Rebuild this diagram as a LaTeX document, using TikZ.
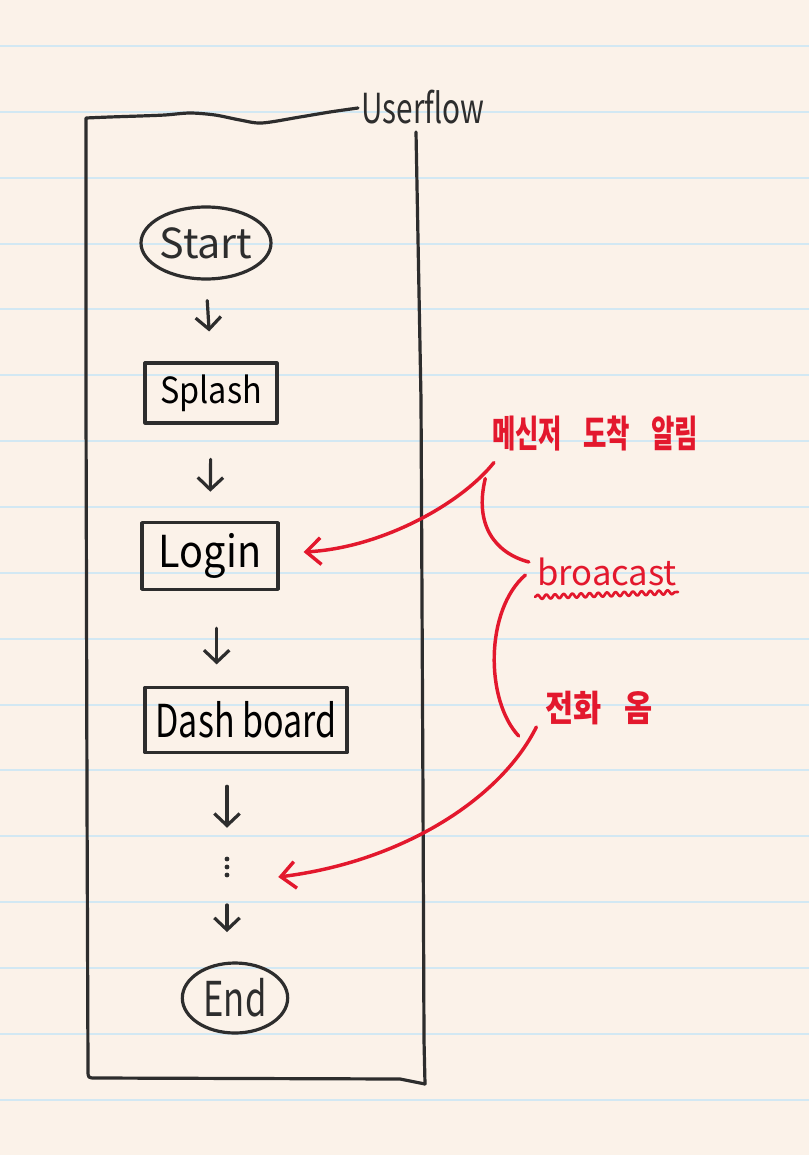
\documentclass[tikz,border=0pt]{standalone}
\usepackage{fontspec}
\setmainfont{Noto Sans CJK KR}
\usetikzlibrary{arrows.meta,shapes.geometric,decorations.pathmorphing}
\definecolor{paper}{HTML}{FBF2E9}
\definecolor{ruleblue}{HTML}{D2E8F3}
\definecolor{ink}{HTML}{2D2D2D}
\definecolor{redink}{HTML}{E3182D}
\newcommand{\handtext}[3]{\fontsize{#1}{#1}\selectfont\scalebox{#2}[1]{#3}}
\begin{document}
\begin{tikzpicture}[x=0.75pt,y=-0.75pt,
  inkline/.style={draw=ink,line width=2.4pt,line cap=round,line join=round},
  redline/.style={draw=redink,line width=2.6pt,line cap=round,line join=round},
  flowarrow/.style={inkline,-{Straight Barb[length=9pt,width=19pt]}},
  redarrow/.style={redline,-{Straight Barb[length=11pt,width=20pt]}},
  oval/.style={ellipse,inkline,inner sep=0pt},
  screenbox/.style={rectangle,inkline,inner sep=0pt},
  hand/.style={text=ink,inner sep=0pt},
  redtext/.style={text=redink,inner sep=0pt}]
\fill[paper] (0,0) rectangle (809,1155);
\useasboundingbox (0,0) rectangle (809,1155);
\foreach \k in {0,...,16}
  \draw[ruleblue,line width=1.5pt] (0,{46+65.85*\k}) -- (809,{46+65.85*\k});

% outer frame
\draw[inkline] plot[smooth,tension=0.5] coordinates {(358,108) (330,112) (300,117) (262,123) (240,120) (215,115) (190,113) (165,115) (140,116) (110,117) (86,118)}
  -- (86,400) -- (87,800) -- (88,1070) .. controls (88,1078) .. (96,1078) -- (400,1079) -- (425,1084);
\draw[inkline] (416,132) -- (421,400) -- (423,800) -- (424,1040) -- (425,1084);
\node[hand] (title) at (423,107) {\handtext{31pt}{0.72}{Userflow}};

% flow nodes
\node[oval,minimum width=97.5pt,minimum height=54pt,label={[hand]center:\handtext{31pt}{1}{Start}}] (start) at (206,243) {};
\node[screenbox,minimum width=99pt,minimum height=45pt] (splash) at (211,393) {\handtext{27pt}{0.9}{Splash}};
\node[screenbox,minimum width=102pt,minimum height=50pt] (login) at (210,556) {\handtext{33pt}{0.9}{Login}};
\node[screenbox,minimum width=151.5pt,minimum height=49pt] (dash) at (246,720) {\handtext{34pt}{0.75}{Dash board}};
\node[minimum size=22.5pt,inner sep=0pt] (dots) at (227,867) {};
\fill[ink] ([yshift=6pt]dots.center) circle[radius=1.8pt] (dots.center) circle[radius=1.8pt] ([yshift=-6pt]dots.center) circle[radius=1.8pt];
\node[oval,minimum width=79pt,minimum height=52.5pt,label={[hand]center:\handtext{36pt}{0.72}{End}}] (end) at (235,998) {};

% flow arrows
\draw[flowarrow,shorten <=15pt,shorten >=22.5pt] (start.south) -- (splash.north);
\draw[flowarrow,shorten <=26pt,shorten >=22pt] (splash.south) -- (login.north);
\draw[flowarrow,shorten <=28pt,shorten >=16pt] ([xshift=5pt]login.south) -- ([xshift=5pt]login.south |- dash.north);
\draw[flowarrow,shorten <=24pt,shorten >=18pt] (dots.north |- dash.south) -- (dots.north);
\draw[flowarrow,shorten <=17pt,shorten >=22pt] (dots.south) -- (dots.south |- end.north);

% red annotations
\node[redtext,font=\bfseries] (msg) at (595,434) {\handtext{28pt}{0.68}{메신저 \hspace{0.6em}도착 \hspace{0.6em}알림}};
\node[redtext] (bc) at (607,572) {\handtext{26pt}{1.0}{broacast}};
\node[redtext,font=\bfseries] (ph) at (599,708) {\handtext{27pt}{0.85}{전화 \hspace{0.5em}옴}};
\draw[redline,line width=2pt,decorate,decoration={snake,segment length=6.5pt,amplitude=1.6pt}] (535,597) -- (678,592);

\draw[redarrow] ([xshift=1.5pt,yshift=-8pt]msg.south west) .. controls (460,505) and (380,548) .. ([xshift=18pt,yshift=3pt]login.east);
\draw[redline] ([xshift=-5pt,yshift=-20pt]msg.south west) .. controls (474,525) and (495,553) .. ([xshift=-6pt,yshift=7.5pt]bc.west);
\draw[redline] ([xshift=-8.6pt,yshift=-2.25pt]bc.west) .. controls (485,610) and (485,700) .. ([xshift=-20pt,yshift=-21pt]ph.west);
\draw[redarrow] ([xshift=-6.75pt,yshift=-14.25pt]ph.west) .. controls (500,800) and (400,862) .. ([xshift=27pt,yshift=-7.5pt]dots.east);
\end{tikzpicture}
\end{document}
